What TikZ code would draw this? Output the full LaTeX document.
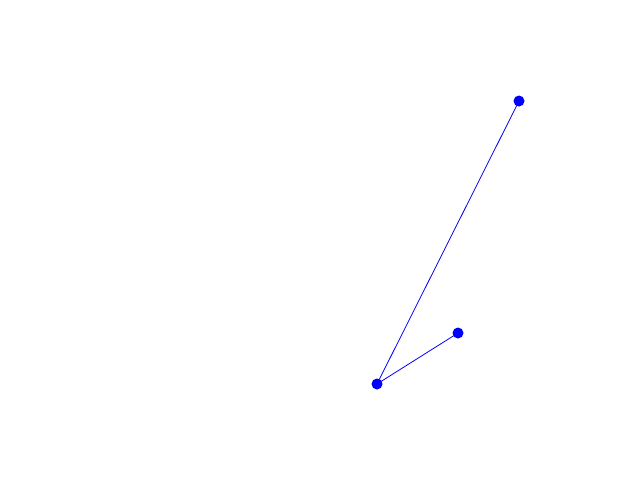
\documentclass[tikz,border=0pt]{standalone}
\definecolor{dotblue}{RGB}{0,0,255}
\tikzset{
  dot/.style={circle,fill=dotblue,draw=none,minimum size=11pt,inner sep=0pt},
  link/.style={draw=dotblue,line width=0.8pt}
}
\begin{document}
\begin{tikzpicture}[x=1pt,y=-1pt]
\useasboundingbox (0,0) rectangle (640,480);
\node[dot] (a) at (519,101) {};
\node[dot] (b) at (377,384) {};
\node[dot] (c) at (458,333) {};
\draw[link] (b.center) -- (a.center);
\draw[link] (b.center) -- (c.center);
\end{tikzpicture}
\end{document}
